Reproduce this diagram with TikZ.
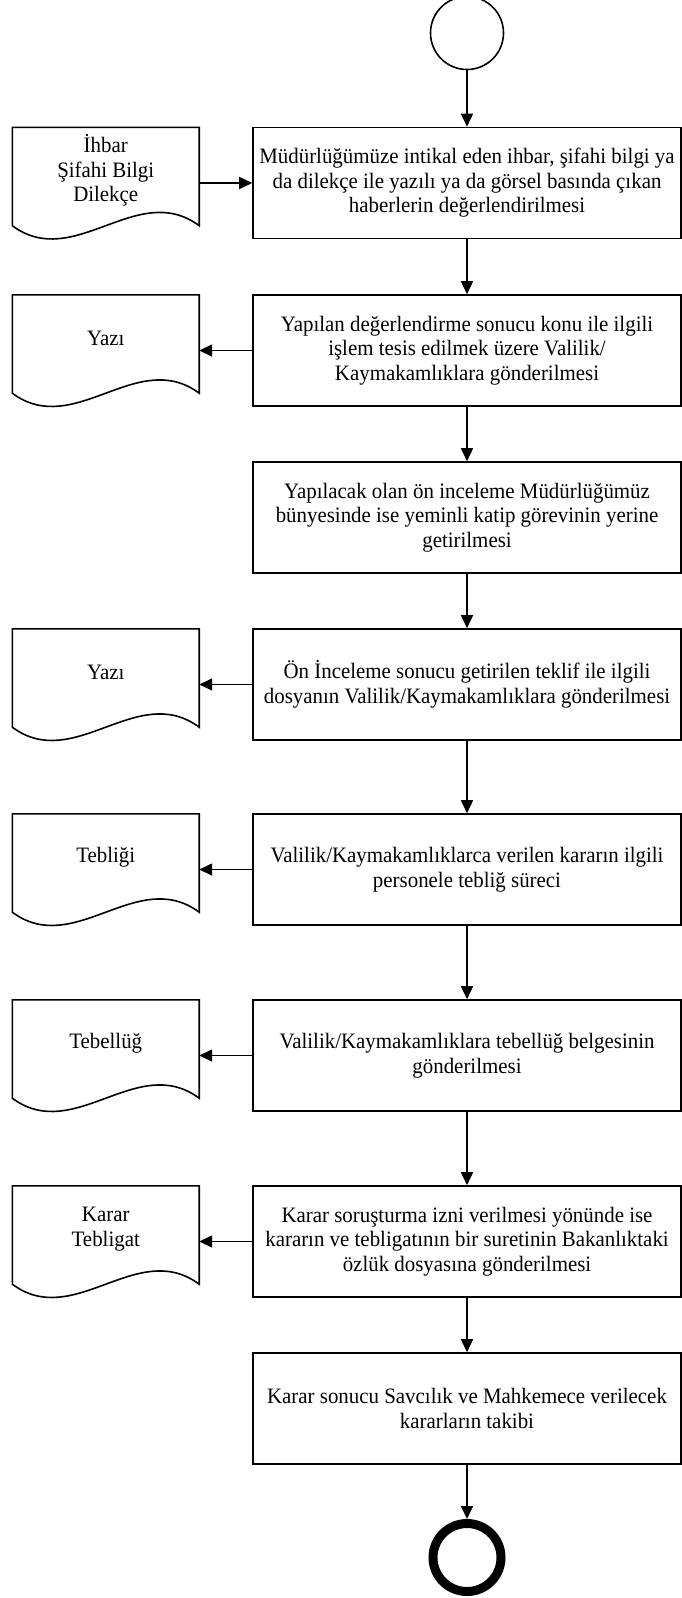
\documentclass[tikz,border=0pt]{standalone}
\usepackage{fontspec}
\setmainfont{Liberation Serif}[FakeStretch=0.95]
\usetikzlibrary{arrows.meta,calc}
\tikzset{
  procbox/.style={draw, line width=1.6pt, rectangle, minimum width=428pt, minimum height=111pt, inner sep=0pt, align=center, font=\fontsize{22}{24.5}\selectfont},
  docnode/.style={rectangle, minimum width=186.5pt, minimum height=86pt, inner sep=0pt, align=center, font=\fontsize{22}{24.5}\selectfont},
  docline/.style={draw, line width=1.6pt, line join=miter},
  arr/.style={line width=1.6pt, -{Triangle[length=13pt,width=12pt]}},
  startev/.style={circle, draw, line width=1.6pt, minimum size=73pt, inner sep=0pt},
  endev/.style={circle, draw, line width=9pt, minimum size=68pt, inner sep=0pt}
}
\newcommand{\docoutline}[1]{%
  \path[docline] (#1.north west) -- (#1.north east) -- ($(#1.south east)+(0,12)$)
    .. controls ($(#1.south east)+(-62,-34)$) and ($(#1.south west)+(62,58)$) ..
    ($(#1.south west)+(0,12)$) -- cycle;}
\begin{document}
\begin{tikzpicture}[x=1pt,y=-1pt]
\useasboundingbox (0,0) rectangle (682,1598);
\node[startev] (start) at (467,33) {};
\node[procbox] (b1) at (467,183) {Müdürlüğümüze intikal eden ihbar, şifahi bilgi ya\\da dilekçe ile yazılı ya da görsel basında çıkan\\haberlerin değerlendirilmesi};
\node[procbox] (b2) at (467,350.5) {Yapılan değerlendirme sonucu konu ile ilgili\\işlem tesis edilmek üzere Valilik/\\Kaymakamlıklara gönderilmesi};
\node[procbox] (b3) at (467,517.5) {Yapılacak olan ön inceleme Müdürlüğümüz\\bünyesinde ise yeminli katip görevinin yerine\\getirilmesi};
\node[procbox] (b4) at (467,684.5) {Ön İnceleme sonucu getirilen teklif ile ilgili\\dosyanın Valilik/Kaymakamlıklara gönderilmesi};
\node[procbox] (b5) at (467,869.5) {Valilik/Kaymakamlıklarca verilen kararın ilgili\\personele tebliğ süreci};
\node[procbox] (b6) at (467,1055.5) {Valilik/Kaymakamlıklara tebellüğ belgesinin\\gönderilmesi};
\node[procbox] (b7) at (467,1241.5) {Karar soruşturma izni verilmesi yönünde ise\\kararın ve tebligatının bir suretinin Bakanlıktaki\\özlük dosyasına gönderilmesi};
\node[procbox] (b8) at (467,1408.5) {Karar sonucu Savcılık ve Mahkemece verilecek\\kararların takibi};
\node[endev] (end) at (467,1557.5) {};

\node[docnode] (d1) at (105.75,170.5) {İhbar\\Şifahi Bilgi\\Dilekçe};
\node[docnode] (d2) at (105.75,338) {Yazı};
\node[docnode] (d4) at (105.75,672) {Yazı};
\node[docnode] (d5) at (105.75,857) {Tebliği};
\node[docnode] (d6) at (105.75,1043) {Tebellüğ};
\node[docnode] (d7) at (105.75,1229) {Karar\\Tebligat};
\docoutline{d1}
\docoutline{d2}
\docoutline{d4}
\docoutline{d5}
\docoutline{d6}
\docoutline{d7}

\draw[arr] (start) -- (b1);
\draw[arr] (b1) -- (b2);
\draw[arr] (b2) -- (b3);
\draw[arr] (b3) -- (b4);
\draw[arr] (b4) -- (b5);
\draw[arr] (b5) -- (b6);
\draw[arr] (b6) -- (b7);
\draw[arr] (b7) -- (b8);
\draw[arr] (b8) -- (end);

\draw[arr] (d1.east |- b1.west) -- (b1.west);
\draw[arr] (b2.west) -- (d2.east |- b2.west);
\draw[arr] (b4.west) -- (d4.east |- b4.west);
\draw[arr] (b5.west) -- (d5.east |- b5.west);
\draw[arr] (b6.west) -- (d6.east |- b6.west);
\draw[arr] (b7.west) -- (d7.east |- b7.west);
\end{tikzpicture}
\end{document}
